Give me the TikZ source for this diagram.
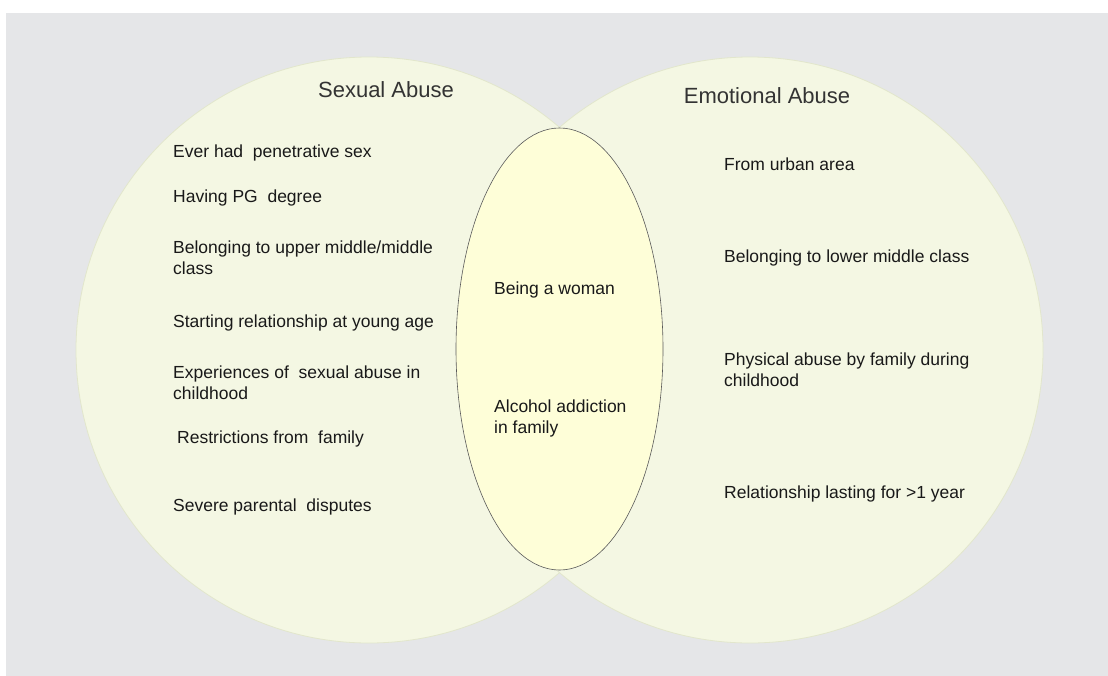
\documentclass[tikz,border=0pt]{standalone}
\usepackage{fontspec}
\setmainfont{Liberation Sans}
\usetikzlibrary{shapes.geometric}
\definecolor{bggray}{HTML}{E5E6E8}
\definecolor{setfill}{HTML}{F4F7E3}
\definecolor{setedge}{HTML}{E2E6CC}
\definecolor{overlapfill}{HTML}{FEFED8}
\definecolor{titlegray}{HTML}{333333}
\begin{document}
\begin{tikzpicture}[
        x=1pt, y=-1pt,
        setcircle/.style={circle, draw=setedge, fill=setfill, line width=0.8pt,
                          minimum size=586pt, inner sep=0pt},
        overlap/.style={ellipse, draw=black!65, fill=overlapfill, line width=0.6pt,
                        minimum width=207pt, minimum height=442pt, inner sep=0pt},
        heading/.style={font=\fontsize{22}{26}\selectfont, text=titlegray, inner sep=0pt},
        item/.style={anchor=west, align=left, inner sep=0pt, text=black!90,
                     font=\fontsize{17.5}{21}\selectfont},
      ]
        \useasboundingbox (0,0) rectangle (1108,675);
        \fill[bggray] (6,13) rectangle (1112,679);

        % the two sets and their overlap
        \node[setcircle] (sexual) at (369,350) {};
        \node[setcircle] (emotional) at (750,350) {};
        \node[overlap] (both) at (559.5,349) {};

        \node[heading] (sexualtitle) at (386,90) {Sexual Abuse};
        \node[heading] (emotionaltitle) at (767,96) {Emotional Abuse};

        % sexual abuse only
        \node[item] (s1) at (173,153) {Ever had\ \ penetrative sex};
        \node[item] (s2) at (173,198) {Having PG\ \ degree};
        \node[item] (s3) at (173,257.5) {Belonging to upper middle/middle\\class};
        \node[item] (s4) at (173,323) {Starting relationship at young age};
        \node[item] (s5) at (173,382.5) {Experiences of\ \ sexual abuse in\\childhood};
        \node[item] (s6) at (177,439) {Restrictions from\ \ family};
        \node[item] (s7) at (173,507) {Severe parental\ \ disputes};

        % both
        \node[item] (b1) at (494,290) {Being a woman};
        \node[item] (b2) at (494,418) {Alcohol addiction\\in family};

        % emotional abuse only
        \node[item] (e1) at (724,164) {From urban area};
        \node[item] (e2) at (724,258) {Belonging to lower middle class};
        \node[item] (e3) at (724,369.5) {Physical abuse by family during\\childhood};
        \node[item] (e4) at (724,494) {Relationship lasting for >1 year};
      \end{tikzpicture}
\end{document}
